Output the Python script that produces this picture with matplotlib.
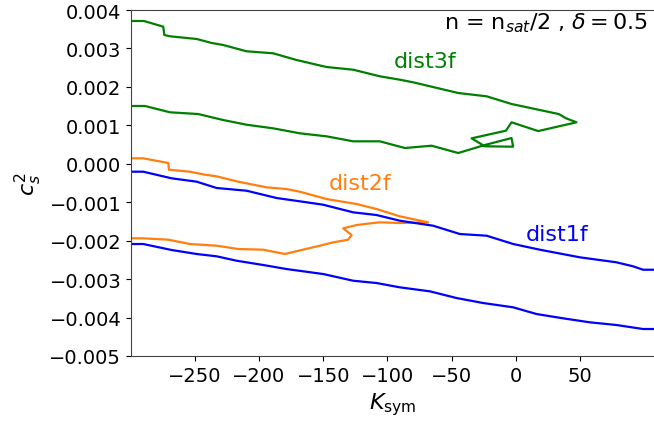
import numpy as np
import matplotlib
matplotlib.use('Agg')
import matplotlib.pyplot as plt

# contour lines, c_s^2 in units of 1e-3
dist3f_x = [-299, -289.4, -274.4, -273.6, -269.2, -248.4, -236.8, -227.8, -209.6, -188.9,
            -170.7, -147.4, -126.7, -105.9, -90.4, -80.0, -45.0, -22.9, -3.5, 33.2, 38.9, 47.0,
            17.2, -3.5, -7.9, -34.6, -24.3, -2.3, -3.5, -24.3, -45.0, -65.7, -86.5, -105.9,
            -126.7, -147.4, -168.1, -188.9, -209.6, -227.8, -247.2, -269.2, -288.6, -299]
dist3f_y = [3.714, 3.714, 3.566, 3.350, 3.316, 3.246, 3.142, 3.090, 2.926, 2.874,
            2.699, 2.517, 2.447, 2.275, 2.187, 2.119, 1.841, 1.755, 1.555, 1.294, 1.183, 1.079,
            0.851, 1.079, 0.860, 0.662, 0.455, 0.444, 0.670, 0.488, 0.280, 0.470, 0.410, 0.584,
            0.584, 0.714, 0.792, 0.922, 1.016, 1.138, 1.294, 1.339, 1.503, 1.503]

dist2f_x = [-299, -290, -270.5, -270, -253.7, -242, -232.9, -216.1, -194.0, -178.5, -168.1,
            -147.4, -124.0, -108.5, -90.4, -68.4, -90.4, -105.9, -111.1, -124.0, -134.4,
            -127.9, -130.6, -142.2, -152.6, -166.8, -179.8, -196.7, -216.1, -232.9, -253.7,
            -270.5, -290, -299]
dist2f_y = [0.142, 0.142, 0.020, -0.155, -0.206, -0.284, -0.327, -0.466, -0.613, -0.657, -0.727,
            -0.917, -1.047, -1.177, -1.367, -1.523, -1.541, -1.523, -1.541, -1.593, -1.679,
            -1.853, -1.975, -2.043, -2.131, -2.243, -2.347, -2.235, -2.217, -2.131, -2.087,
            -1.975, -1.939, -1.939]

dist1f_upper_x = [-299, -290, -267.9, -248.4, -232.9, -209.6, -186.2, -168.1, -150.0, -126.7,
                  -108.5, -90.4, -64.5, -43.7, -22.9, -2.2, 18.5, 49.6, 78.1, 91.0, 98.8, 107.1]
dist1f_upper_y = [-0.206, -0.206, -0.378, -0.466, -0.630, -0.701, -0.891, -0.977, -1.065, -1.263,
                  -1.333, -1.481, -1.611, -1.827, -1.871, -2.087, -2.235, -2.433, -2.563, -2.667,
                  -2.756, -2.756]
dist1f_lower_x = [-299, -290, -267.9, -248.4, -232.9, -217.3, -196.7, -178.5, -150.0, -126.7,
                  -108.5, -90.4, -67.0, -46.3, -25.6, -2.2, 15.9, 36.6, 57.4, 78.1, 98.8, 107.1]
dist1f_lower_y = [-2.087, -2.087, -2.243, -2.347, -2.407, -2.522, -2.633, -2.738, -2.868, -3.042,
                  -3.102, -3.214, -3.318, -3.492, -3.622, -3.734, -3.908, -4.020, -4.124, -4.194,
                  -4.298, -4.298]

fig = plt.figure(figsize=(6.54, 4.27), dpi=100)
ax = fig.add_axes([131/654, 70/427, 523/654, 346/427])

ax.plot(dist3f_x, np.array(dist3f_y)*1e-3, color='green', lw=1.6)
ax.plot(dist2f_x, np.array(dist2f_y)*1e-3, color='#ff7f0e', lw=1.6)
ax.plot(dist1f_upper_x, np.array(dist1f_upper_y)*1e-3, color='blue', lw=1.6)
ax.plot(dist1f_lower_x, np.array(dist1f_lower_y)*1e-3, color='blue', lw=1.6)

ax.text(-95.0, 2.68e-3, 'dist3f', color='green', fontsize=16, va='center')
ax.text(-145.6, -0.51e-3, 'dist2f', color='#ff7f0e', fontsize=16, va='center')
ax.text(7.6, -1.82e-3, 'dist1f', color='blue', fontsize=16, va='center')

fig.text(648/654, (427-11)/427, r'n = n$_{sat}$/2 , $\delta = 0.5$', ha='right', va='top', fontsize=16)

ax.set_xlim(-299.5, 107.3)
ax.set_ylim(-0.005, 0.004)
ax.set_xticks([-250, -200, -150, -100, -50, 0, 50])
ax.set_yticks(np.linspace(-0.005, 0.004, 10))
ax.tick_params(labelsize=14)
ax.spines['right'].set_visible(False)
for s in ['left', 'top', 'bottom']:
    ax.spines[s].set_color('#444444')

ax.set_xlabel(r'$K_{\rm sym}$', fontsize=16)
ax.set_ylabel(r'$c_s^2$', fontsize=16)

fig.savefig('out.png', dpi=100)
